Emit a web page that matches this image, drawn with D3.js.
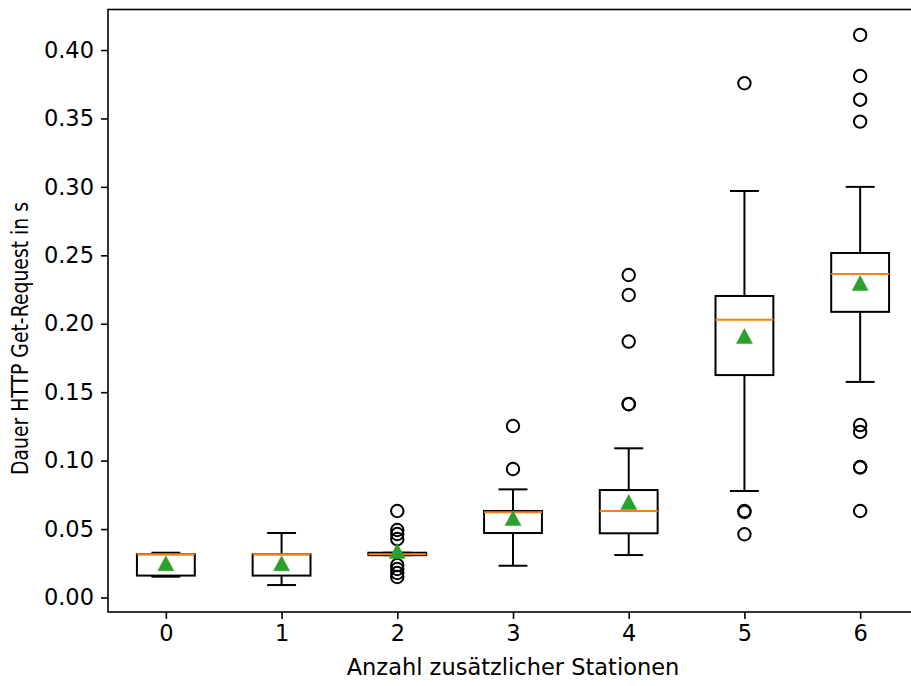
<!DOCTYPE html>
<html><head><meta charset="utf-8">
<script src="https://cdn.jsdelivr.net/npm/d3@7"></script>
<style>body{margin:0;background:#fff}svg{display:block}</style>
</head><body>
<svg id="c" width="911" height="686"></svg>
<script>
const categories = ["0","1","2","3","4","5","6"];
const whiskerLow  = [0.0152, 0.0091, 0.0309, 0.0232, 0.0310, 0.0778, 0.1575];
const q1          = [0.0160, 0.0160, 0.0309, 0.0471, 0.0469, 0.1625, 0.2087];
const medians     = [0.0316, 0.0316, 0.0316, 0.0622, 0.0632, 0.2030, 0.2364];
const q3          = [0.0316, 0.0316, 0.0327, 0.0632, 0.0785, 0.2203, 0.2517];
const whiskerHigh = [0.0327, 0.0471, 0.0327, 0.0790, 0.1090, 0.2970, 0.3000];
const means       = [0.0250, 0.0250, 0.0340, 0.0580, 0.0698, 0.1910, 0.2298];
const outliers = [
  [],
  [],
  [0.0632, 0.0493, 0.0464, 0.0427, 0.0237, 0.0208, 0.0179, 0.0150],
  [0.1253, 0.0939],
  [0.2356, 0.2210, 0.1870, 0.1414, 0.1412],
  [0.3757, 0.0632, 0.0625, 0.0462],
  [0.4110, 0.3810, 0.3637, 0.3477, 0.1260, 0.1210, 0.0953, 0.0950, 0.0632]
];
const yTicks = [0, 0.05, 0.10, 0.15, 0.20, 0.25, 0.30, 0.35, 0.40];
const xLabel = "Anzahl zusätzlicher Stationen";
const yLabel = "Dauer HTTP Get-Request in s";

const L = 108, R = 918, T = 9.5, B = 612;
const svg = d3.select("#c");
const x = d3.scaleLinear().domain([-0.5, 6.5]).range([L, R]);
const y = d3.scaleLinear().domain([-0.0106, 0.4296]).range([B, T]);
const unit = x(1) - x(0);
const bw = unit * 0.5, cw = bw * 0.5;
const font = "DejaVu Sans, sans-serif";
const fs = "22.5px";

const data = categories.map((c, i) => ({i, c, lo: whiskerLow[i], q1: q1[i], med: medians[i], q3: q3[i], hi: whiskerHigh[i], mean: means[i], out: outliers[i]}));

const g = svg.append("g");
const bx = g.selectAll("g.box").data(data).join("g").attr("class", "box");
bx.append("line").attr("x1", d => x(d.i)).attr("x2", d => x(d.i)).attr("y1", d => y(d.q1)).attr("y2", d => y(d.lo)).attr("stroke", "#000").attr("stroke-width", 2);
bx.append("line").attr("x1", d => x(d.i)).attr("x2", d => x(d.i)).attr("y1", d => y(d.q3)).attr("y2", d => y(d.hi)).attr("stroke", "#000").attr("stroke-width", 2);
bx.append("line").attr("x1", d => x(d.i) - cw/2).attr("x2", d => x(d.i) + cw/2).attr("y1", d => y(d.lo)).attr("y2", d => y(d.lo)).attr("stroke", "#000").attr("stroke-width", 2);
bx.append("line").attr("x1", d => x(d.i) - cw/2).attr("x2", d => x(d.i) + cw/2).attr("y1", d => y(d.hi)).attr("y2", d => y(d.hi)).attr("stroke", "#000").attr("stroke-width", 2);
bx.append("rect").attr("x", d => x(d.i) - bw/2).attr("width", bw).attr("y", d => y(d.q3)).attr("height", d => Math.max(0.01, y(d.q1) - y(d.q3))).attr("fill", "none").attr("stroke", "#000").attr("stroke-width", 2);
bx.append("line").attr("x1", d => x(d.i) - bw/2).attr("x2", d => x(d.i) + bw/2).attr("y1", d => y(d.med)).attr("y2", d => y(d.med)).attr("stroke", "#ff7f0e").attr("stroke-width", 2);
bx.selectAll("circle").data(d => d.out.map(v => ({i: d.i, v}))).join("circle")
  .attr("cx", d => x(d.i)).attr("cy", d => y(d.v)).attr("r", 6.2)
  .attr("fill", "none").attr("stroke", "#000").attr("stroke-width", 2);
bx.append("path").attr("d", "M0,-7.5L8,7.5L-8,7.5Z")
  .attr("transform", d => `translate(${x(d.i)},${y(d.mean)})`)
  .attr("fill", "#2ca02c").attr("stroke", "#2ca02c").attr("stroke-width", 0.5);

const yAxis = d3.axisLeft(y).tickValues(yTicks).tickFormat(d3.format(".2f")).tickSize(7).tickPadding(7);
const xAxis = d3.axisBottom(x).tickValues(d3.range(categories.length)).tickFormat(i => categories[i]).tickSize(7).tickPadding(6);
const ya = svg.append("g").attr("transform", `translate(${L},0)`).call(yAxis);
const xa = svg.append("g").attr("transform", `translate(0,${B})`).call(xAxis);
[ya, xa].forEach(a => {
  a.select(".domain").remove();
  a.selectAll(".tick line").attr("stroke", "#000").attr("stroke-width", 1.6);
  a.selectAll(".tick text").attr("fill", "#000").style("font-family", font).style("font-size", fs);
});
svg.append("rect").attr("x", L).attr("y", T).attr("width", R - L).attr("height", B - T)
  .attr("fill", "none").attr("stroke", "#000").attr("stroke-width", 1.6);

svg.append("text").attr("x", (L + R) / 2).attr("y", 675).attr("text-anchor", "middle")
  .style("font-family", font).style("font-size", fs).text(xLabel);
svg.append("text").attr("transform", `translate(28,338.5) rotate(-90)`).attr("text-anchor", "middle")
  .attr("textLength", 273).attr("lengthAdjust", "spacingAndGlyphs")
  .style("font-family", font).style("font-size", fs).text(yLabel);
</script>
</body></html>
